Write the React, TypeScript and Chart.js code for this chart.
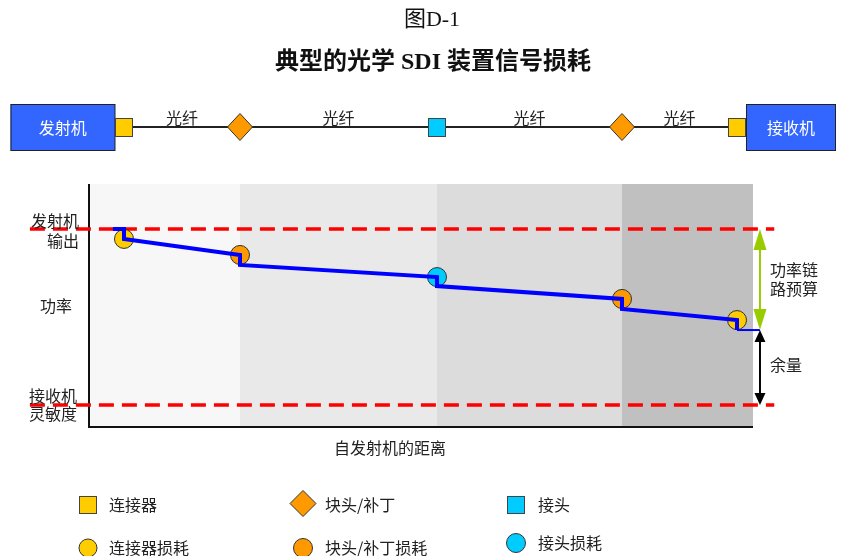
import React, { useEffect, useRef } from "react";
import { Chart, registerables } from "chart.js";

Chart.register(...registerables);

// ---- data (distance along the link in %, power in % of scale) ----
const componentKinds = ["connector", "patch", "splice", "patch", "connector"];
const componentDistance = [5.27, 22.74, 52.41, 80.27, 97.59];
const powerIn = [81.5, 70.8, 61.7, 52.7, 44.0];
const powerOut = [77.4, 66.7, 58.0, 48.6, 39.9];
const lossMarker = [77.4, 70.8, 61.7, 52.7, 44.0];
const lineStart = 3.6;
const lineEnd = 101.05;
const txOutput = 81.5;
const rxSensitivity = 9.1;
const refLineStart = -8.9;
const refLineEnd = 103.2;
const bandEdges = [0, 22.74, 52.41, 80.27, 100];
const bandColors = ["#f7f7f7", "#e9e9e9", "#dcdcdc", "#c0c0c0"];

const kindColor: Record<string, string> = {
  connector: "#ffcc00",
  patch: "#ff9900",
  splice: "#00ccff",
};

const titleMain = "典型的光学 SDI 装置信号损耗";
const figureLabel = "图D-1";
const xAxisLabel = "自发射机的距离";
const fiberLabel = "光纤";
const txName = "发射机";
const rxName = "接收机";
const leftLabelsTop = ["发射机", "输出"];
const leftLabelMid = "功率";
const leftLabelsBottom = ["接收机", "灵敏度"];
const budgetLabel = ["功率链", "路预算"];
const marginLabel = "余量";
const legendTop = ["连接器", "块头/补丁", "接头"];
const legendBottom = ["连接器损耗", "块头/补丁损耗", "接头损耗"];

const CJK = '"Noto Sans CJK SC", sans-serif';
const SERIF = '"Liberation Serif", "Noto Sans CJK SC", serif';

function buildLine() {
  const pts = [{ x: lineStart, y: txOutput }];
  componentDistance.forEach((d, i) => {
    pts.push({ x: d, y: powerIn[i] });
    pts.push({ x: d, y: powerOut[i] });
  });
  return pts;
}

function lossPoints(kind: string) {
  const out: { x: number; y: number }[] = [];
  componentKinds.forEach((k, i) => {
    if (k === kind) out.push({ x: componentDistance[i], y: lossMarker[i] });
  });
  return out;
}

function drawSquare(ctx: CanvasRenderingContext2D, cx: number, cy: number, w: number, h: number, fill: string) {
  ctx.fillStyle = fill;
  ctx.strokeStyle = "#444";
  ctx.lineWidth = 1;
  ctx.fillRect(cx - w / 2, cy - h / 2, w, h);
  ctx.strokeRect(cx - w / 2 + 0.5, cy - h / 2 + 0.5, w - 1, h - 1);
}

function drawDiamond(ctx: CanvasRenderingContext2D, cx: number, cy: number, hw: number, hh: number, fill: string) {
  ctx.beginPath();
  ctx.moveTo(cx, cy - hh);
  ctx.lineTo(cx + hw, cy);
  ctx.lineTo(cx, cy + hh);
  ctx.lineTo(cx - hw, cy);
  ctx.closePath();
  ctx.fillStyle = fill;
  ctx.fill();
  ctx.strokeStyle = "#333";
  ctx.lineWidth = 1;
  ctx.stroke();
}

function drawCircle(ctx: CanvasRenderingContext2D, cx: number, cy: number, r: number, fill: string) {
  ctx.beginPath();
  ctx.arc(cx, cy, r, 0, Math.PI * 2);
  ctx.fillStyle = fill;
  ctx.fill();
  ctx.strokeStyle = "#333";
  ctx.lineWidth = 1;
  ctx.stroke();
}

function drawArrow(
  ctx: CanvasRenderingContext2D,
  x: number,
  y1: number,
  y2: number,
  color: string,
  headHalf: number,
  headLen: number
) {
  ctx.strokeStyle = color;
  ctx.fillStyle = color;
  ctx.lineWidth = 2;
  ctx.beginPath();
  ctx.moveTo(x, y1 + headLen - 2);
  ctx.lineTo(x, y2 - headLen + 2);
  ctx.stroke();
  ctx.beginPath();
  ctx.moveTo(x, y1);
  ctx.lineTo(x + headHalf, y1 + headLen);
  ctx.lineTo(x - headHalf, y1 + headLen);
  ctx.closePath();
  ctx.fill();
  ctx.beginPath();
  ctx.moveTo(x, y2);
  ctx.lineTo(x + headHalf, y2 - headLen);
  ctx.lineTo(x - headHalf, y2 - headLen);
  ctx.closePath();
  ctx.fill();
}

const diagramPlugin = {
  id: "diagram",
  beforeDatasetsDraw(chart: any) {
    const { ctx, chartArea: a, scales } = chart;
    const x = scales.x;
    ctx.save();
    for (let i = 0; i < bandColors.length; i++) {
      const x0 = x.getPixelForValue(bandEdges[i]);
      const x1 = x.getPixelForValue(bandEdges[i + 1]);
      ctx.fillStyle = bandColors[i];
      ctx.fillRect(x0, a.top, x1 - x0, a.bottom - a.top);
    }
    ctx.strokeStyle = "#111";
    ctx.lineWidth = 2;
    ctx.beginPath();
    ctx.moveTo(a.left, a.top);
    ctx.lineTo(a.left, a.bottom);
    ctx.lineTo(a.right, a.bottom);
    ctx.stroke();
    ctx.restore();
  },
  afterDatasetsDraw(chart: any) {
    const { ctx, chartArea: a, scales } = chart;
    const x = scales.x;
    const y = scales.y;
    ctx.save();

    // titles
    ctx.fillStyle = "#111";
    ctx.textAlign = "center";
    ctx.textBaseline = "middle";
    ctx.font = `22px ${SERIF}`;
    ctx.fillText(figureLabel, 432, 20);
    ctx.font = `bold 24px ${SERIF}`;
    ctx.fillText(titleMain, 433, 63);

    // top link diagram
    const rowY = 127.5;
    const cx = componentDistance.map((d) => x.getPixelForValue(d));
    ctx.strokeStyle = "#222";
    ctx.lineWidth = 2;
    ctx.beginPath();
    ctx.moveTo(cx[0], 127);
    ctx.lineTo(cx[cx.length - 1], 127);
    ctx.stroke();
    // boxes
    const txRight = cx[0] - 9;
    const rxLeft = cx[cx.length - 1] + 9;
    ctx.fillStyle = "#3366ff";
    ctx.fillRect(10.5, 104, txRight - 10.5, 47);
    ctx.fillRect(rxLeft, 104, 836 - rxLeft, 47);
    ctx.strokeStyle = "#222";
    ctx.lineWidth = 1;
    ctx.strokeRect(11, 104.5, txRight - 11, 46);
    ctx.strokeRect(rxLeft + 0.5, 104.5, 836 - rxLeft - 1, 46);
    ctx.fillStyle = "#ffffff";
    ctx.font = `16px ${CJK}`;
    ctx.fillText(txName, (10.5 + txRight) / 2, 128);
    ctx.fillText(rxName, (rxLeft + 836) / 2, 128);
    // fiber labels
    ctx.fillStyle = "#222";
    for (let i = 0; i < cx.length - 1; i++) {
      ctx.fillText(fiberLabel, (cx[i] + cx[i + 1]) / 2, 118);
    }
    // components
    componentKinds.forEach((k, i) => {
      if (k === "patch") drawDiamond(ctx, cx[i], rowY - 0.5, 12.5, 13.5, kindColor[k]);
      else drawSquare(ctx, cx[i], rowY, 18, 19, kindColor[k]);
    });

    // left labels
    const yTx = y.getPixelForValue(txOutput);
    const yRx = y.getPixelForValue(rxSensitivity);
    const yEnd = y.getPixelForValue(powerOut[powerOut.length - 1]);
    ctx.fillStyle = "#222";
    ctx.font = `16px ${CJK}`;
    ctx.textAlign = "right";
    ctx.fillText(leftLabelsTop[0], 79, yTx - 8);
    ctx.fillText(leftLabelsTop[1], 79, yTx + 12);
    ctx.fillText(leftLabelsBottom[0], 77, yRx - 9);
    ctx.fillText(leftLabelsBottom[1], 77, yRx + 9);
    ctx.textAlign = "center";
    ctx.fillText(leftLabelMid, 56, 306);

    // x axis label
    ctx.fillText(xAxisLabel, 390, a.bottom + 21);

    // arrows
    const ax = x.getPixelForValue(lineEnd);
    drawArrow(ctx, ax, yTx, yEnd, "#99cc00", 6.5, 21);
    drawArrow(ctx, ax, yEnd, yRx, "#000000", 5.5, 12);
    ctx.fillStyle = "#222";
    ctx.textAlign = "left";
    ctx.fillText(budgetLabel[0], 770, (yTx + yEnd) / 2 - 10);
    ctx.fillText(budgetLabel[1], 770, (yTx + yEnd) / 2 + 9);
    ctx.fillText(marginLabel, 770, (yEnd + yRx) / 2 - 3);

    // legend
    const colIcon = [88, 303, 516];
    const colText = [109, 325, 538];
    const legendKinds = ["connector", "patch", "splice"];
    legendKinds.forEach((k, i) => {
      if (k === "patch") drawDiamond(ctx, colIcon[i], 503.5, 13, 13, kindColor[k]);
      else drawSquare(ctx, colIcon[i], 505, 18, 18, kindColor[k]);
      const rowY2 = k === "splice" ? 543 : 548;
      drawCircle(ctx, colIcon[i], rowY2, k === "connector" ? 9 : 9.5, kindColor[k]);
      ctx.fillStyle = "#222";
      ctx.font = `16px ${CJK}`;
      ctx.textAlign = "left";
      ctx.fillText(legendTop[i], colText[i], 505);
      ctx.fillText(legendBottom[i], colText[i], rowY2);
    });

    ctx.restore();
  },
};

export default function App() {
  const ref = useRef<HTMLCanvasElement | null>(null);
  useEffect(() => {
    if (!ref.current) return;
    const chart = new Chart(ref.current, {
      type: "scatter",
      data: {
        datasets: [
          {
            label: "功率",
            data: buildLine(),
            showLine: true,
            borderColor: "#0000ff",
            borderWidth: 4,
            pointRadius: 0,
            borderJoinStyle: "miter",
            tension: 0,
            clip: false,
            order: 0,
          } as any,
          {
            label: "tail",
            data: [
              { x: componentDistance[componentDistance.length - 1], y: powerOut[powerOut.length - 1] },
              { x: lineEnd, y: powerOut[powerOut.length - 1] },
            ],
            showLine: true,
            borderColor: "#0000ff",
            borderWidth: 2,
            pointRadius: 0,
            clip: false,
            order: 0,
          } as any,
          ...["connector", "patch", "splice"].map((k) => ({
            label: k,
            data: lossPoints(k),
            pointRadius: 9.5,
            pointHoverRadius: 9.5,
            backgroundColor: kindColor[k],
            borderColor: "#333",
            borderWidth: 1,
            clip: false,
            order: 1,
          })),
          ...[txOutput, rxSensitivity].map((v) => ({
            label: "ref",
            data: [
              { x: refLineStart, y: v },
              { x: refLineEnd, y: v },
            ],
            showLine: true,
            borderColor: "#ff0000",
            borderWidth: 3.5,
            borderDash: [15, 8],
            pointRadius: 0,
            clip: false,
            order: 2,
          })),
        ] as any,
      },
      options: {
        animation: false,
        responsive: false,
        maintainAspectRatio: false,
        devicePixelRatio: 1,
        events: [],
        layout: { padding: { left: 89, top: 184, right: 91, bottom: 129 } },
        scales: {
          x: { type: "linear", min: 0, max: 100, display: false },
          y: { type: "linear", min: 0, max: 100, display: false },
        },
        plugins: {
          legend: { display: false },
          tooltip: { enabled: false },
          title: { display: false },
        },
      },
      plugins: [diagramPlugin],
    });
    return () => chart.destroy();
  }, []);
  return (
    <div style={{ position: "fixed", left: 0, top: 0, width: 844, height: 556, background: "#fff" }}>
      <canvas ref={ref} width={844} height={556} style={{ display: "block", width: 844, height: 556 }} />
    </div>
  );
}
